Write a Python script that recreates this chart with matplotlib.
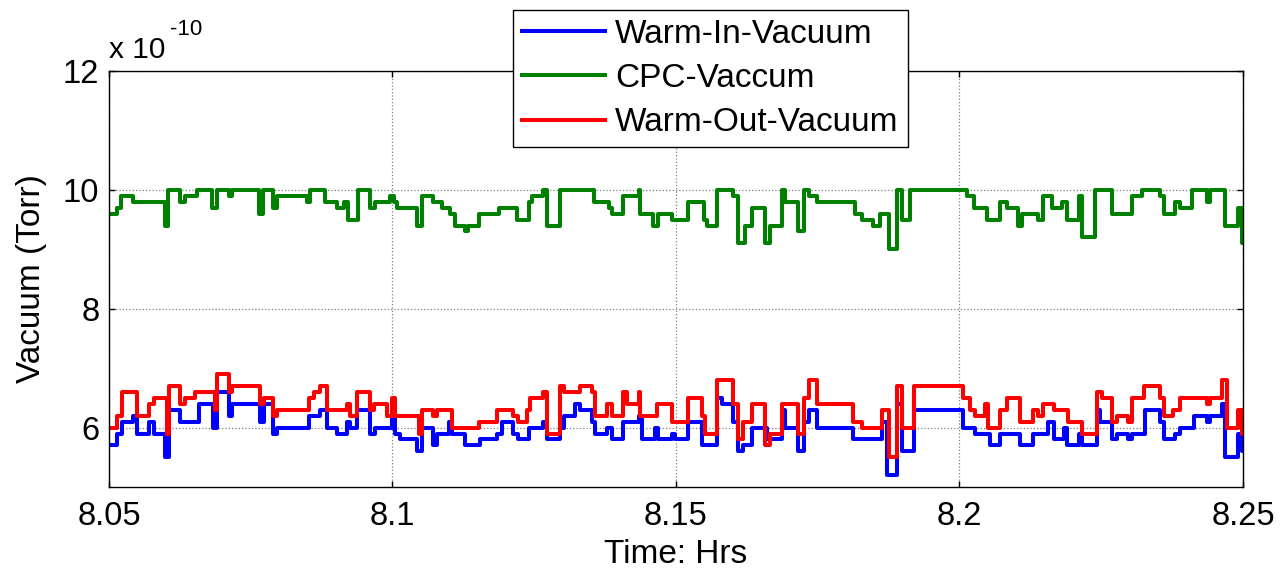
import matplotlib
matplotlib.use("Agg")
import matplotlib.pyplot as plt
import numpy as np

plt.rcParams['font.family'] = ['Liberation Sans', 'DejaVu Sans']

# Time (hrs) and vacuum values (x 1e-10 Torr): (start time of step, value)
warm_in = [(8.0500, 5.7), (8.0514, 5.9), (8.0523, 6.1), (8.0543, 6.2), (8.0549, 5.9), (8.0570, 6.1),
           (8.0579, 5.9), (8.0599, 5.5), (8.0605, 6.3), (8.0626, 6.1), (8.0658, 6.4), (8.0684, 6.0),
           (8.0690, 6.6), (8.0711, 6.2), (8.0717, 6.4), (8.0767, 6.1), (8.0773, 6.4), (8.0790, 5.9),
           (8.0796, 6.0), (8.0852, 6.2), (8.0873, 6.3), (8.0884, 6.0), (8.0902, 5.9), (8.0920, 6.1),
           (8.0925, 6.0), (8.0937, 6.3), (8.0961, 5.9), (8.0970, 6.0), (8.0999, 6.2), (8.1005, 5.9),
           (8.1013, 5.8), (8.1043, 5.6), (8.1052, 6.0), (8.1072, 5.7), (8.1078, 5.9), (8.1099, 6.1),
           (8.1105, 5.9), (8.1128, 5.7), (8.1155, 5.8), (8.1184, 5.9), (8.1193, 6.1), (8.1213, 5.9),
           (8.1222, 5.8), (8.1240, 6.0), (8.1266, 6.1), (8.1272, 5.8), (8.1296, 6.0), (8.1302, 6.2),
           (8.1322, 6.4), (8.1331, 6.3), (8.1352, 6.1), (8.1358, 5.9), (8.1378, 6.0), (8.1387, 5.8),
           (8.1407, 6.1), (8.1434, 6.2), (8.1440, 5.8), (8.1463, 6.0), (8.1469, 5.8), (8.1493, 5.9),
           (8.1499, 5.8), (8.1522, 6.1), (8.1546, 5.7), (8.1572, 6.5), (8.1581, 6.4), (8.1601, 6.1),
           (8.1610, 5.6), (8.1619, 5.7), (8.1634, 6.0), (8.1660, 5.8), (8.1687, 6.3), (8.1693, 6.0),
           (8.1716, 5.6), (8.1725, 6.1), (8.1734, 6.3), (8.1748, 6.0), (8.1813, 5.8), (8.1863, 6.1),
           (8.1872, 5.2), (8.1890, 6.4), (8.1898, 5.6), (8.1919, 6.3), (8.2007, 6.0), (8.2028, 5.9),
           (8.2054, 5.7), (8.2072, 5.9), (8.2107, 5.7), (8.2130, 5.9), (8.2157, 6.1), (8.2166, 5.8),
           (8.2184, 6.0), (8.2189, 5.7), (8.2210, 5.9), (8.2216, 5.7), (8.2242, 6.3), (8.2248, 6.1),
           (8.2269, 5.8), (8.2277, 5.9), (8.2298, 5.8), (8.2304, 5.9), (8.2328, 6.3), (8.2354, 6.1),
           (8.2360, 5.8), (8.2380, 5.9), (8.2389, 6.0), (8.2413, 6.2), (8.2436, 6.1), (8.2442, 6.2),
           (8.2463, 6.4), (8.2468, 5.5), (8.2492, 5.9), (8.2498, 5.6)]

cpc = [(8.0500, 9.6), (8.0514, 9.7), (8.0522, 9.9), (8.0543, 9.8), (8.0599, 9.4), (8.0604, 10.0),
       (8.0626, 9.8), (8.0634, 9.9), (8.0656, 10.0), (8.0681, 9.7), (8.0690, 10.0), (8.0711, 9.9),
       (8.0717, 10.0), (8.0764, 9.6), (8.0772, 10.0), (8.0790, 9.7), (8.0796, 9.9), (8.0849, 9.8),
       (8.0855, 10.0), (8.0881, 9.8), (8.0902, 9.7), (8.0914, 9.8), (8.0922, 9.5), (8.0940, 10.0),
       (8.0961, 9.7), (8.0969, 9.8), (8.0996, 9.9), (8.1002, 9.8), (8.1008, 9.7), (8.1043, 9.4),
       (8.1052, 9.9), (8.1072, 9.8), (8.1087, 9.7), (8.1102, 9.6), (8.1111, 9.4), (8.1128, 9.3),
       (8.1134, 9.4), (8.1152, 9.6), (8.1187, 9.7), (8.1219, 9.5), (8.1240, 9.8), (8.1246, 9.9),
       (8.1266, 10.0), (8.1272, 9.4), (8.1296, 10.0), (8.1355, 9.8), (8.1381, 9.7), (8.1387, 9.6),
       (8.1407, 9.9), (8.1434, 10.0), (8.1437, 9.6), (8.1460, 9.4), (8.1469, 9.6), (8.1493, 9.5),
       (8.1522, 9.8), (8.1549, 9.5), (8.1554, 9.4), (8.1572, 10.0), (8.1601, 9.9), (8.1610, 9.1),
       (8.1622, 9.4), (8.1634, 9.7), (8.1657, 9.1), (8.1666, 9.4), (8.1687, 10.0), (8.1693, 9.8),
       (8.1716, 9.3), (8.1725, 10.0), (8.1734, 9.9), (8.1749, 9.8), (8.1816, 9.6), (8.1828, 9.5),
       (8.1848, 9.4), (8.1860, 9.6), (8.1875, 9.0), (8.1890, 10.0), (8.1898, 9.5), (8.1913, 10.0),
       (8.2013, 9.9), (8.2025, 9.7), (8.2048, 9.5), (8.2072, 9.8), (8.2084, 9.7), (8.2104, 9.4),
       (8.2110, 9.6), (8.2139, 9.5), (8.2148, 9.9), (8.2163, 9.7), (8.2181, 9.8), (8.2189, 9.5),
       (8.2210, 9.9), (8.2216, 9.2), (8.2239, 10.0), (8.2269, 9.6), (8.2304, 9.9), (8.2322, 10.0),
       (8.2354, 9.9), (8.2360, 9.6), (8.2380, 9.8), (8.2389, 9.7), (8.2410, 10.0), (8.2436, 9.8),
       (8.2442, 10.0), (8.2469, 9.4), (8.2492, 9.7), (8.2498, 9.1)]

warm_out = [(8.0500, 6.0), (8.0514, 6.2), (8.0523, 6.6), (8.0549, 6.2), (8.0570, 6.4), (8.0579, 6.5),
            (8.0602, 5.9), (8.0605, 6.7), (8.0626, 6.4), (8.0634, 6.5), (8.0652, 6.6), (8.0687, 6.3),
            (8.0690, 6.9), (8.0711, 6.6), (8.0717, 6.7), (8.0767, 6.4), (8.0773, 6.5), (8.0790, 6.2),
            (8.0796, 6.3), (8.0852, 6.5), (8.0861, 6.6), (8.0873, 6.7), (8.0884, 6.3), (8.0920, 6.4),
            (8.0925, 6.2), (8.0937, 6.6), (8.0961, 6.3), (8.0967, 6.4), (8.0990, 6.2), (8.0999, 6.5),
            (8.1005, 6.2), (8.1046, 5.9), (8.1052, 6.3), (8.1072, 6.2), (8.1078, 6.3), (8.1105, 6.0),
            (8.1152, 6.1), (8.1184, 6.3), (8.1213, 6.2), (8.1222, 6.1), (8.1237, 6.3), (8.1243, 6.5),
            (8.1266, 6.6), (8.1272, 5.9), (8.1296, 6.7), (8.1302, 6.6), (8.1331, 6.7), (8.1352, 6.6),
            (8.1358, 6.2), (8.1378, 6.4), (8.1387, 6.2), (8.1407, 6.6), (8.1413, 6.4), (8.1434, 6.6),
            (8.1437, 6.2), (8.1466, 6.4), (8.1493, 6.1), (8.1522, 6.5), (8.1546, 6.2), (8.1551, 5.9),
            (8.1572, 6.8), (8.1601, 6.4), (8.1610, 5.8), (8.1619, 6.1), (8.1634, 6.4), (8.1657, 5.7),
            (8.1666, 5.9), (8.1687, 6.4), (8.1716, 5.9), (8.1725, 6.5), (8.1734, 6.8), (8.1748, 6.4),
            (8.1813, 6.1), (8.1828, 6.0), (8.1863, 6.3), (8.1875, 5.5), (8.1890, 6.7), (8.1898, 6.0),
            (8.1919, 6.7), (8.2007, 6.5), (8.2019, 6.3), (8.2028, 6.2), (8.2045, 6.4), (8.2051, 6.0),
            (8.2072, 6.3), (8.2084, 6.5), (8.2107, 6.1), (8.2130, 6.3), (8.2139, 6.2), (8.2148, 6.4),
            (8.2166, 6.3), (8.2192, 6.1), (8.2216, 5.9), (8.2242, 6.6), (8.2251, 6.5), (8.2269, 6.1),
            (8.2277, 6.2), (8.2298, 6.1), (8.2304, 6.5), (8.2325, 6.7), (8.2354, 6.5), (8.2360, 6.2),
            (8.2377, 6.3), (8.2389, 6.5), (8.2436, 6.4), (8.2442, 6.5), (8.2463, 6.8), (8.2471, 6.0),
            (8.2492, 6.3), (8.2498, 5.9)]

series_names = ['Warm-In-Vacuum', 'CPC-Vaccum', 'Warm-Out-Vacuum']
series_data = [warm_in, cpc, warm_out]
series_colors = ['#0000ff', '#008000', '#ff0000']

t_end = 8.25
x_ticks = [8.05, 8.1, 8.15, 8.2, 8.25]
y_ticks = [6, 8, 10, 12]

fig = plt.figure(figsize=(12.81, 5.72), dpi=100)
ax = fig.add_axes([0.0851, 0.1486, 0.8852, 0.7273])

for name, data, col in zip(series_names, series_data, series_colors):
    t = [p[0] for p in data] + [t_end]
    v = [p[1] for p in data] + [data[-1][1]]
    ax.step(t, v, where='post', color=col, lw=2.9, label=name)

ax.set_xlim(8.05, 8.25)
ax.set_ylim(5, 12)
ax.set_xticks(x_ticks)
ax.set_xticklabels([f'{x:g}' for x in x_ticks])
ax.set_yticks(y_ticks)
ax.set_yticklabels([f'{y:g}' for y in y_ticks])

ax.grid(True, ls=':', color='#808080', lw=0.9)
ax.tick_params(direction='in', length=4, width=1, top=True, right=True,
               labelsize=23.5, colors='black')
ax.tick_params(axis='x', pad=10)
ax.tick_params(axis='y', pad=7)
for s in ax.spines.values():
    s.set_linewidth(1.0)

ax.set_xlabel('Time: Hrs', fontsize=24, va='center')
ax.xaxis.set_label_coords(0.5, -0.162)
ax.set_ylabel('Vacuum (Torr)', fontsize=24, va='center')
ax.yaxis.set_label_coords(-0.0685, 0.5)

ax.text(0.0, 1.0 + 13 / 416, 'x 10', transform=ax.transAxes,
        ha='left', va='baseline', fontsize=21.5)
ax.text(61 / 1134, 1.0 + 36 / 416, '-10', transform=ax.transAxes,
        ha='left', va='baseline', fontsize=16)

leg = ax.legend(loc='upper left', bbox_to_anchor=(0.356, 1.147), fontsize=24,
                frameon=True, fancybox=False, framealpha=1, edgecolor='black',
                borderpad=0.27, labelspacing=0.4, handlelength=2.5, handletextpad=0.3,
                borderaxespad=0)
leg.get_frame().set_linewidth(1.0)

fig.savefig('out.png', dpi=100)
